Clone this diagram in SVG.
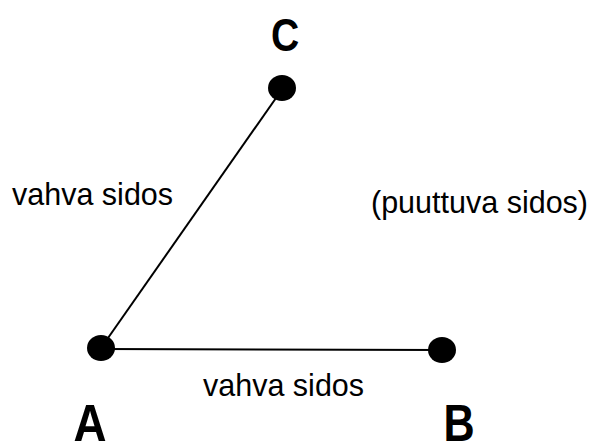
<svg xmlns="http://www.w3.org/2000/svg" width="595" height="447" viewBox="0 0 595 447">
<style>
.node{fill:#000}
.big{font-family:"Liberation Sans",Arial,sans-serif;font-weight:bold;fill:#000}
.lbl{font-family:"Liberation Sans",Arial,sans-serif;font-size:30.5px;fill:#000}
.edge{stroke:#000;stroke-width:2;fill:none}
</style>
<rect width="595" height="447" fill="#fff"/>
<g id="connectors">
<line class="edge" x1="101" y1="348" x2="283" y2="88"/>
<line class="edge" x1="101" y1="349" x2="442" y2="350"/>
</g>
<g id="node-A">
<ellipse class="node" cx="101" cy="348" rx="14" ry="13"/>
<text class="big" font-size="52" transform="translate(90,441) scale(0.88,1)" text-anchor="middle">A</text>
</g>
<g id="node-B">
<ellipse class="node" cx="442" cy="350" rx="14" ry="13"/>
<text class="big" font-size="52" transform="translate(459,441) scale(0.83,1)" text-anchor="middle">B</text>
</g>
<g id="node-C">
<ellipse class="node" cx="282" cy="88" rx="14" ry="13"/>
<text class="big" font-size="46" transform="translate(285,51) scale(0.85,1)" text-anchor="middle">C</text>
</g>
<g id="labels">
<text class="lbl" x="12" y="205">vahva sidos</text>
<text class="lbl" x="371" y="213">(puuttuva sidos)</text>
<text class="lbl" x="203" y="396">vahva sidos</text>
</g>
</svg>
